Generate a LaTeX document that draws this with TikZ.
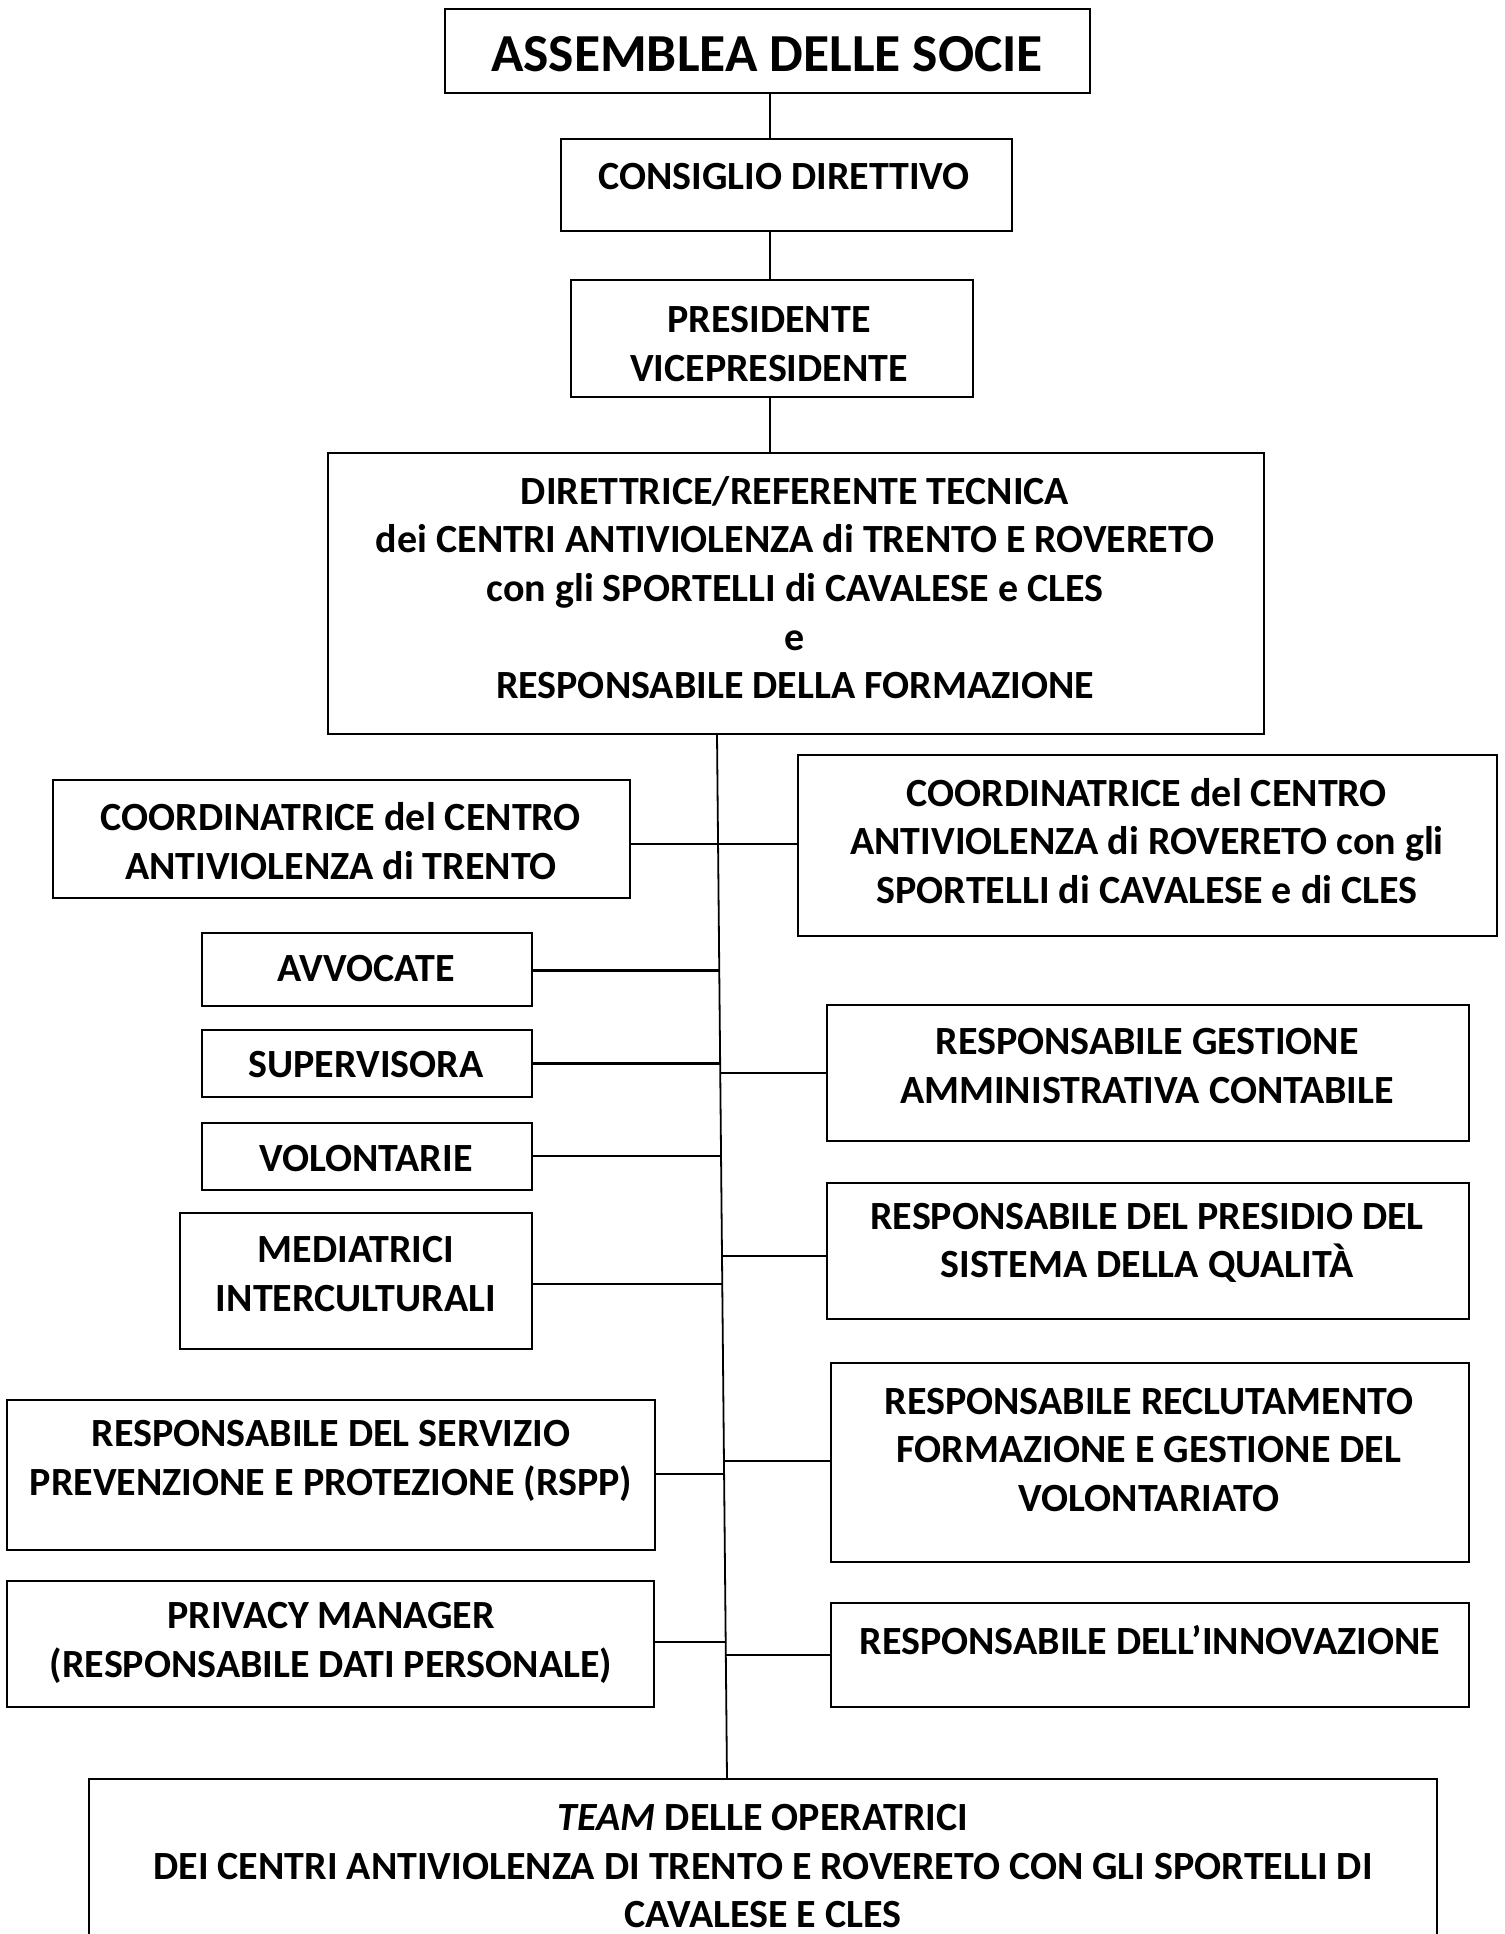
\documentclass[tikz,border=0pt]{standalone}
\usepackage{fontspec}
\setmainfont{Carlito}
\newcommand\obox[5]{\node[box, minimum width={(#4)-(#2)}, minimum height={(#5)-(#3)}] (#1) at ({((#2)+(#4))/2},{((#3)+(#5))/2}) {};}
\begin{document}
\begin{tikzpicture}[x=1pt,y=-1pt,
  box/.style={draw, line width=1.3pt, inner sep=0pt, outer sep=0pt},
  txt/.style={align=center, inner sep=0pt, font=\fontsize{40}{48.7}\selectfont\bfseries},
  bigtxt/.style={align=center, inner sep=0pt, font=\fontsize{53.5}{60}\selectfont\bfseries},
  conn/.style={line width=2.2pt},
  vconn/.style={line width=1.8pt},
  trunk/.style={line width=1.8pt}]
\useasboundingbox (0,0) rectangle (1504,1934);
\clip (0,0) rectangle (1504,1934);
% boxes
\obox{ass}{445}{9}{1090}{93}
\obox{con}{561}{139}{1012}{231}
\obox{pre}{571}{280}{973}{397}
\obox{dir}{328}{453}{1264}{734}
\obox{ctr}{53}{780}{630}{898}
\obox{crv}{798}{755}{1497}{936}
\obox{avv}{202}{933}{532}{1006}
\obox{sup}{202}{1030}{532}{1097}
\obox{vol}{202}{1123}{532}{1190}
\obox{med}{180}{1213}{532}{1349}
\obox{rge}{827}{1005}{1469}{1141}
\obox{rpr}{827}{1183}{1469}{1319}
\obox{rspp}{7}{1400}{655}{1550}
\obox{rrec}{831}{1363}{1469}{1562}
\obox{priv}{7}{1581}{654}{1707}
\obox{rinn}{831}{1603}{1469}{1707}
\obox{team}{89}{1779}{1437}{1990}
% texts
\node[bigtxt] (ass-t) at (767,54) {ASSEMBLEA DELLE SOCIE};
\node[txt] (con-t) at (784,177) {CONSIGLIO DIRETTIVO};
\node[txt] (pre-t) at (769,344) {PRESIDENTE\\VICEPRESIDENTE};
\node[txt] (dir-t) at (795,587.5) {DIRETTRICE/REFERENTE TECNICA\\dei CENTRI ANTIVIOLENZA di TRENTO E ROVERETO\\con gli SPORTELLI di CAVALESE e CLES\\e\\RESPONSABILE DELLA FORMAZIONE};
\node[txt] (ctr-t) at (341,841) {COORDINATRICE del CENTRO\\ANTIVIOLENZA di TRENTO};
\node[txt] (crv-t) at (1147,841) {COORDINATRICE del CENTRO\\ANTIVIOLENZA di ROVERETO con gli\\SPORTELLI di CAVALESE e di CLES};
\node[txt] (avv-t) at (366,968.5) {AVVOCATE};
\node[txt] (sup-t) at (366,1065) {SUPERVISORA};
\node[txt] (vol-t) at (366,1159) {VOLONTARIE};
\node[txt] (med-t) at (356,1274) {MEDIATRICI\\INTERCULTURALI};
\node[txt] (rge-t) at (1147,1066) {RESPONSABILE GESTIONE\\AMMINISTRATIVA CONTABILE};
\node[txt] (rpr-t) at (1147,1243) {RESPONSABILE DEL PRESIDIO DEL\\SISTEMA DELLA QUALITÀ};
\node[txt] (rspp-t) at (331,1461) {RESPONSABILE DEL SERVIZIO\\PREVENZIONE E PROTEZIONE (RSPP)};
\node[txt] (rrec-t) at (1149,1450) {RESPONSABILE RECLUTAMENTO\\FORMAZIONE E GESTIONE DEL\\VOLONTARIATO};
\node[txt] (priv-t) at (331,1643) {PRIVACY MANAGER\\(RESPONSABILE DATI PERSONALE)};
\node[txt] (rinn-t) at (1150,1640) {RESPONSABILE DELL’INNOVAZIONE};
\node[txt] (team-t) at (763,1866) {\textit{TEAM} DELLE OPERATRICI\\DEI CENTRI ANTIVIOLENZA DI TRENTO E ROVERETO CON GLI SPORTELLI DI\\CAVALESE E CLES};
% vertical top connectors
\coordinate (vx) at (770,0);
\draw[vconn] (ass.south -| vx) -- (con.north -| vx);
\draw[vconn] (con.south -| vx) -- (pre.north -| vx);
\draw[vconn] (pre.south -| vx) -- (dir.north -| vx);
% trunk
\coordinate (ttop) at (717,0);
\coordinate (tbot) at (727,0);
\draw[trunk] (dir.south -| ttop) -- (team.north -| tbot);
% junctions on trunk
\coordinate (j1) at (718.1,844);
\coordinate (javv) at (719.3,970.5);
\coordinate (jsup) at (720.2,1063.5);
\coordinate (jvol) at (721.0,1156);
\coordinate (jmed) at (722.3,1284);
\coordinate (jrge) at (720.2,1073);
\coordinate (jrpr) at (722.0,1256);
\coordinate (jrspp) at (724.1,1473.7);
\coordinate (jrrec) at (724.0,1461);
\coordinate (jpriv) at (725.7,1642);
\coordinate (jrinn) at (725.8,1655);
% horizontal connectors
\draw[conn] (ctr.east |- j1) -- (crv.west |- j1);
\draw[conn] (avv.east |- javv) -- (javv);
\draw[conn] (sup.east |- jsup) -- (jsup);
\draw[conn] (vol.east |- jvol) -- (jvol);
\draw[conn] (med.east |- jmed) -- (jmed);
\draw[conn] (jrge) -- (rge.west |- jrge);
\draw[conn] (jrpr) -- (rpr.west |- jrpr);
\draw[conn] (rspp.east |- jrspp) -- (jrspp);
\draw[conn] (jrrec) -- (rrec.west |- jrrec);
\draw[conn] (priv.east |- jpriv) -- (jpriv);
\draw[conn] (jrinn) -- (rinn.west |- jrinn);
\end{tikzpicture}
\end{document}
